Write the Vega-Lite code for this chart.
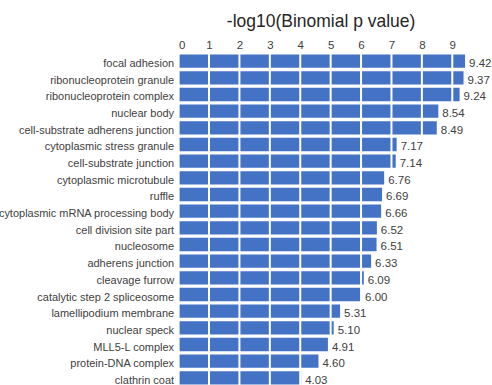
{
  "$schema": "https://vega.github.io/schema/vega-lite/v6.json",
  "autosize": "none",
  "padding": {"left": 178.6, "top": 52.8, "right": 9.3, "bottom": 0},
  "width": 304.1,
  "height": 333.4,
  "background": "white",
  "config": {
    "view": {"stroke": null},
    "font": "Liberation Sans"
  },
  "datasets": {
    "terms": [
      {"term": "focal adhesion", "value": 9.42},
      {"term": "ribonucleoprotein granule", "value": 9.37},
      {"term": "ribonucleoprotein complex", "value": 9.24},
      {"term": "nuclear body", "value": 8.54},
      {"term": "cell-substrate adherens junction", "value": 8.49},
      {"term": "cytoplasmic stress granule", "value": 7.17},
      {"term": "cell-substrate junction", "value": 7.14},
      {"term": "cytoplasmic microtubule", "value": 6.76},
      {"term": "ruffle", "value": 6.69},
      {"term": "cytoplasmic mRNA processing body", "value": 6.66},
      {"term": "cell division site part", "value": 6.52},
      {"term": "nucleosome", "value": 6.51},
      {"term": "adherens junction", "value": 6.33},
      {"term": "cleavage furrow", "value": 6.09},
      {"term": "catalytic step 2 spliceosome", "value": 6.00},
      {"term": "lamellipodium membrane", "value": 5.31},
      {"term": "nuclear speck", "value": 5.10},
      {"term": "MLL5-L complex", "value": 4.91},
      {"term": "protein-DNA complex", "value": 4.60},
      {"term": "clathrin coat", "value": 4.03}
    ],
    "gridlines": [
      {"value": 0}, {"value": 1}, {"value": 2}, {"value": 3}, {"value": 4},
      {"value": 5}, {"value": 6}, {"value": 7}, {"value": 8}, {"value": 9}
    ]
  },
  "encoding": {
    "x": {
      "field": "value",
      "type": "quantitative",
      "scale": {"domain": [0, 10], "nice": false},
      "axis": {
        "orient": "top",
        "values": [0, 1, 2, 3, 4, 5, 6, 7, 8, 9],
        "labelOverlap": false,
        "title": "-log10(Binomial p value)",
        "titleFontSize": 17.5,
        "titleFontWeight": "normal",
        "titleColor": "#262626",
        "titleX": 142,
        "titleY": -26,
        "titleAlign": "center",
        "titleBaseline": "alphabetic",
        "domain": false,
        "ticks": false,
        "grid": false,
        "labelPadding": 4,
        "labelBaseline": "alphabetic",
        "labelFontSize": 11.5,
        "labelColor": "#404040"
      }
    }
  },
  "layer": [
    {
      "data": {"name": "terms"},
      "mark": {"type": "bar", "color": "#4472C4"},
      "encoding": {
        "y": {
          "field": "term",
          "type": "nominal",
          "sort": null,
          "scale": {"paddingInner": 0.2, "paddingOuter": 0.1},
          "axis": {
            "title": null,
            "domain": false,
            "ticks": false,
            "grid": false,
            "labelPadding": 5,
            "labelFontSize": 11,
            "labelColor": "#404040",
            "labelBaseline": "alphabetic",
            "labelOffset": 6,
            "labelLimit": 300
          }
        }
      }
    },
    {
      "data": {"name": "gridlines"},
      "mark": {"type": "rule", "color": "#ffffff", "strokeWidth": 2},
      "encoding": {}
    },
    {
      "data": {"name": "terms"},
      "mark": {"type": "text", "align": "left", "baseline": "alphabetic", "dx": 4, "dy": 6, "fontSize": 11.5, "color": "#404040"},
      "encoding": {
        "y": {"field": "term", "type": "nominal", "sort": null},
        "text": {"field": "value", "type": "quantitative", "format": ".2f"}
      }
    }
  ]
}
